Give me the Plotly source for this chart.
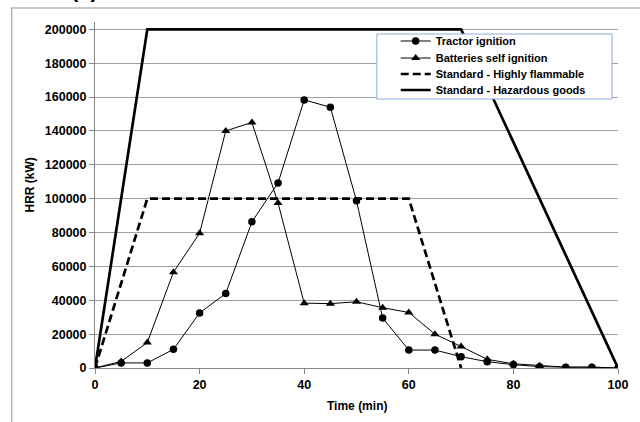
import plotly.graph_objects as go

time = [0, 5, 10, 15, 20, 25, 30, 35, 40, 45, 50, 55, 60, 65, 70, 75, 80, 85, 90, 95, 100]
tractor = [0, 3000, 3000, 11000, 32500, 44000, 86300, 109300, 158300, 154000, 98700,
           29500, 10600, 10600, 6700, 3700, 2000, 800, 500, 500, 0]
batteries = [0, 3900, 15000, 56600, 79600, 140000, 145000, 97400, 38300, 38000, 39100,
             35600, 32800, 20000, 12700, 5100, 2500, 1300, 500, 500, 0]
flam_t = [0, 10, 60, 70]
flam_v = [0, 100000, 100000, 0]
haz_t = [0, 10, 70, 100]
haz_v = [0, 200000, 200000, 0]

W, H = 640, 422
L, R, T, B = 95, 18, 22, 54
pw, ph = W - L - R, H - T - B

def px(x):
    return (x - L) / pw

def py(y):
    return (H - B - y) / ph

font_main = "Liberation Sans"
leg_font = dict(family=font_main, size=11, color="black", weight="bold")

fig = go.Figure()
fig.add_trace(go.Scatter(x=time, y=tractor, mode="lines+markers", name="Tractor ignition",
                         line=dict(color="black", width=1), legend="legend",
                         marker=dict(symbol="circle", size=7.5, color="black")))
fig.add_trace(go.Scatter(x=time, y=batteries, mode="lines+markers", name="Batteries self ignition",
                         line=dict(color="black", width=1), legend="legend2",
                         marker=dict(symbol="triangle-up", size=8, color="black")))
fig.add_trace(go.Scatter(x=flam_t, y=flam_v, mode="lines", name="Standard - Highly flammable",
                         line=dict(color="black", width=2.7, dash="8px,4px"), legend="legend3"))
fig.add_trace(go.Scatter(x=haz_t, y=haz_v, mode="lines", name="Standard - Hazardous goods",
                         line=dict(color="black", width=2.7), legend="legend4"))

leg_x = px(398)
row_tops = [26.5, 43.5, 59.5, 75.5]

def leg(top):
    return dict(x=leg_x, y=py(top), xanchor="left", yanchor="top",
                bgcolor="rgba(0,0,0,0)", borderwidth=0, font=leg_font)

fig.update_layout(
    width=W, height=H,
    margin=dict(l=L, r=R, t=T, b=B),
    paper_bgcolor="white", plot_bgcolor="white",
    showlegend=True,
    legend=leg(row_tops[0]),
    legend2=leg(row_tops[1]),
    legend3=leg(row_tops[2]),
    legend4=leg(row_tops[3]),
    xaxis=dict(range=[0, 100], tickvals=[0, 20, 40, 60, 80, 100], showgrid=False,
               showline=True, linecolor="#868686", linewidth=1, zeroline=False,
               ticks="outside", ticklen=5, tickcolor="#868686",
               tickfont=dict(family=font_main, size=12.5, color="black", weight="bold")),
    yaxis=dict(range=[0, 204300], tickvals=list(range(0, 200001, 20000)), tickformat="d",
               showgrid=True, gridcolor="#a0a0a0", gridwidth=1,
               showline=True, linecolor="#868686", linewidth=1, zeroline=False,
               ticks="outside", ticklen=5, tickcolor="#868686",
               tickfont=dict(family=font_main, size=12.5, color="black", weight="bold")),
    shapes=[
        dict(type="rect", xref="paper", yref="paper", x0=px(11), x1=px(660), y0=py(440), y1=py(8),
             line=dict(color="#b4b4b4", width=1.5), fillcolor="rgba(0,0,0,0)", layer="below"),
        dict(type="rect", xref="paper", yref="paper", x0=px(379), x1=px(616), y0=py(99), y1=py(34),
             line=dict(color="#8eaadb", width=1), fillcolor="white", layer="above"),
    ],
    annotations=[
        dict(text="HRR (kW)", xref="paper", yref="paper", x=px(29), y=py(185),
             xanchor="center", yanchor="middle", textangle=-90, showarrow=False,
             font=dict(family=font_main, size=12, color="black", weight="bold")),
        dict(text="Time (min)", xref="paper", yref="paper", x=px(359), y=py(406),
             xanchor="center", yanchor="middle", showarrow=False,
             font=dict(family=font_main, size=12, color="black", weight="bold")),
        dict(text="(a)", xref="paper", yref="paper", x=px(84), y=py(4),
             xanchor="center", yanchor="bottom", showarrow=False,
             font=dict(family=font_main, size=22, color="black", weight="bold")),
    ],
)

fig.write_html("out.html", config={"displayModeBar": False},
               post_script="document.body.style.margin='0';document.body.style.padding='0';")
